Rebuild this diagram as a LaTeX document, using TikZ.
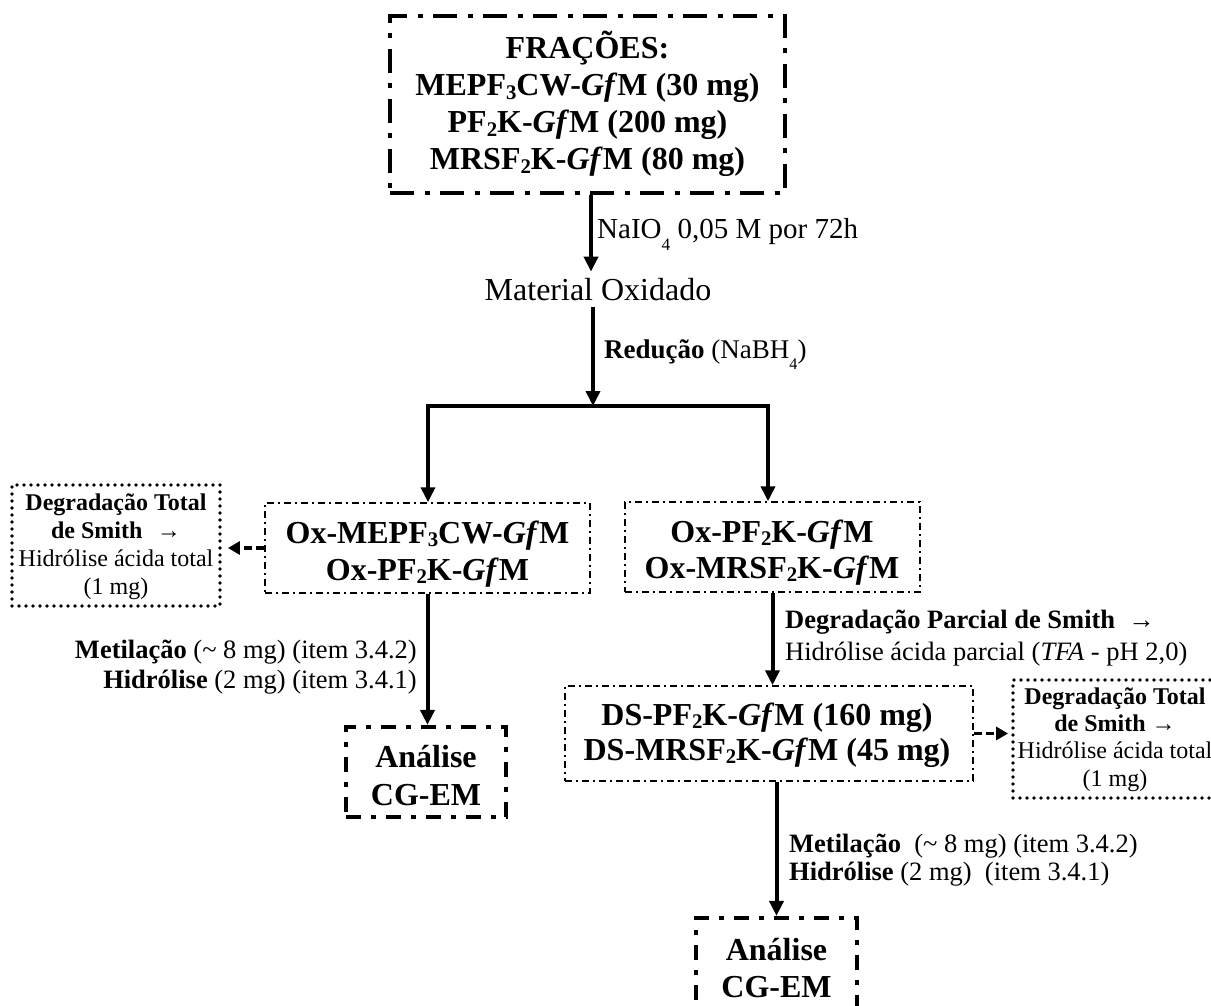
\documentclass[tikz,border=0pt]{standalone}
\usepackage{fontspec}
\setmainfont{Liberation Serif}
\usepackage{graphicx}
\usetikzlibrary{arrows.meta}
\newcommand\bsub[1]{\raisebox{-0.1em}{\scalebox{0.65}{#1}}}
\newcommand\lsub[1]{\raisebox{-0.42em}{\scalebox{0.6}{#1}}}
\newcommand\fs[2]{\fontsize{#1}{#2}\selectfont}
\newcommand\blk[2]{{\setlength\tabcolsep{0pt}\begin{tabular}[t]{#1}#2\end{tabular}}}
\begin{document}
\begin{tikzpicture}[x=1pt,y=-1pt,
  thickdd/.style={draw, line width=4.2pt, dash pattern=on 24pt off 10.5pt on 5pt off 10.5pt, inner sep=0pt},
  anadd/.style={draw, line width=4.2pt, dash pattern=on 15pt off 10pt on 5pt off 10pt, inner sep=0pt},
  thindd/.style={draw, line width=1.5pt, dash pattern=on 7pt off 4pt on 2pt off 4pt, inner sep=0pt},
  dotbox/.style={draw, line width=3.8pt, dash pattern=on 0pt off 7pt, line cap=round, inner sep=0pt},
  txt/.style={anchor=base, inner sep=0pt},
  arr/.style={line width=4pt, -{Triangle[width=14pt,length=15pt]}},
  darr/.style={line width=3.8pt, dash pattern=on 8pt off 4pt, -{Triangle[width=13pt,length=12pt]}},
  bar/.style={line width=4pt, line cap=rect}]
\useasboundingbox (0,0) rectangle (1211,1006);

% boxes
\node[thickdd, minimum width=395pt, minimum height=177pt] (top) at (587.5,104.5) {};
\node[thindd, minimum width=325pt, minimum height=90pt] (leftbox) at (427.5,548) {};
\node[thindd, minimum width=295pt, minimum height=90pt] (rightbox) at (772.5,547) {};
\node[dotbox, minimum width=208pt, minimum height=121pt] (ldot) at (116,545.5) {};
\node[anadd, minimum width=160pt, minimum height=90pt] (lana) at (426,772) {};
\node[thindd, minimum width=408pt, minimum height=95pt] (ds) at (769,733.5) {};
\node[dotbox, minimum width=204pt, minimum height=118pt] (rdot) at (1115,739) {};
\node[anadd, minimum width=161pt, minimum height=91pt] (bana) at (776.5,963.5) {};

% texts in boxes
\node[txt] (toptxt) at (587.5,59) {\fs{32}{37}\bfseries\blk{c}{FRAÇÕES:\\
  MEPF\bsub{3}CW-\textit{Gf}M (30 mg)\\
  PF\bsub{2}K-\textit{Gf}M (200 mg)\\
  MRSF\bsub{2}K-\textit{Gf}M (80 mg)}};
\node[txt, inner ysep=6pt] (mat) at (598,300) {\fs{32}{37}Material Oxidado};
\node[txt] (lefttxt) at (427.5,543) {\fs{32}{37}\bfseries\blk{c}{Ox-MEPF\bsub{3}CW-\textit{Gf}M\\ Ox-PF\bsub{2}K-\textit{Gf}M}};
\node[txt] (righttxt) at (772,542) {\fs{32}{36}\bfseries\blk{c}{Ox-PF\bsub{2}K-\textit{Gf}M\\ Ox-MRSF\bsub{2}K-\textit{Gf}M}};
\node[txt] (ldottxt) at (116,510) {\fs{24}{28.3}\blk{c}{\textbf{Degradação Total}\\ \textbf{de Smith}\hspace{0.6em}→\\ Hidrólise ácida total\\ (1 mg)}};
\node[txt] (lanatxt) at (426,767) {\fs{32}{38}\bfseries\blk{c}{Análise\\ CG-EM}};
\node[txt] (dstxt) at (767,725) {\fs{32}{35}\bfseries\blk{c}{DS-PF\bsub{2}K-\textit{Gf}M (160 mg)\\ DS-MRSF\bsub{2}K-\textit{Gf}M (45 mg)}};
\node[txt] (rdottxt) at (1115,704) {\fs{24}{27.4}\blk{c}{\textbf{Degradação Total}\\ \textbf{de Smith} →\\ Hidrólise ácida total\\ (1 mg)}};
\node[txt] (banatxt) at (776.5,960) {\fs{32}{37}\bfseries\blk{c}{Análise\\ CG-EM}};

% connector labels
\node[txt, anchor=base west] (lnaio) at (597,238) {\fs{29}{30}NaIO\lsub{4} 0,05 M por 72h};
\node[txt, anchor=base west] (lred) at (604,358) {\fs{27}{30}\textbf{Redução} (NaBH\lsub{4})};
\node[txt, anchor=base east] (lmet1) at (417,658) {\fs{26.5}{30}\blk{r}{\textbf{Metilação} (\textasciitilde{} 8 mg) (item 3.4.2)\\ \textbf{Hidrólise} (2 mg) (item 3.4.1)}};
\node[txt, anchor=base west] (lpar) at (785,628) {\fs{26.5}{32}\blk{l}{\textbf{Degradação Parcial de Smith}\hspace{0.5em}→\\ Hidrólise ácida parcial (\textit{TFA} - pH 2,0)}};
\node[txt, anchor=base west] (lmet2) at (789,852) {\fs{26.5}{28}\blk{l}{\textbf{Metilação}\hspace{0.5em}(\textasciitilde{} 8 mg) (item 3.4.2)\\ \textbf{Hidrólise} (2 mg)\hspace{0.5em}(item 3.4.1)}};

% junction
\coordinate (jm) at (593,406);
\coordinate (jl) at (428,406);
\coordinate (jr) at (768,406);

% connectors
\draw[arr] ([xshift=3.5pt]top.south) -- ([xshift=3.5pt]top.south |- mat.north);
\draw[arr] (mat.south -| jm) -- (jm);
\draw[bar] (jl) -- (jr);
\draw[arr] (jl) -- (jl |- leftbox.north);
\draw[arr] (jr) -- (jr |- rightbox.north);
\draw[darr, shorten >=6pt] (leftbox.west) -- (leftbox.west -| ldot.east);
\draw[arr] (leftbox.south) -- (leftbox.south |- lana.north);
\draw[arr] (rightbox.south) -- (rightbox.south |- ds.north);
\draw[darr, shorten >=3pt] (ds.east) -- (ds.east -| rdot.west);
\draw[arr] (bana.north |- ds.south) -- (bana.north);
\end{tikzpicture}
\end{document}
